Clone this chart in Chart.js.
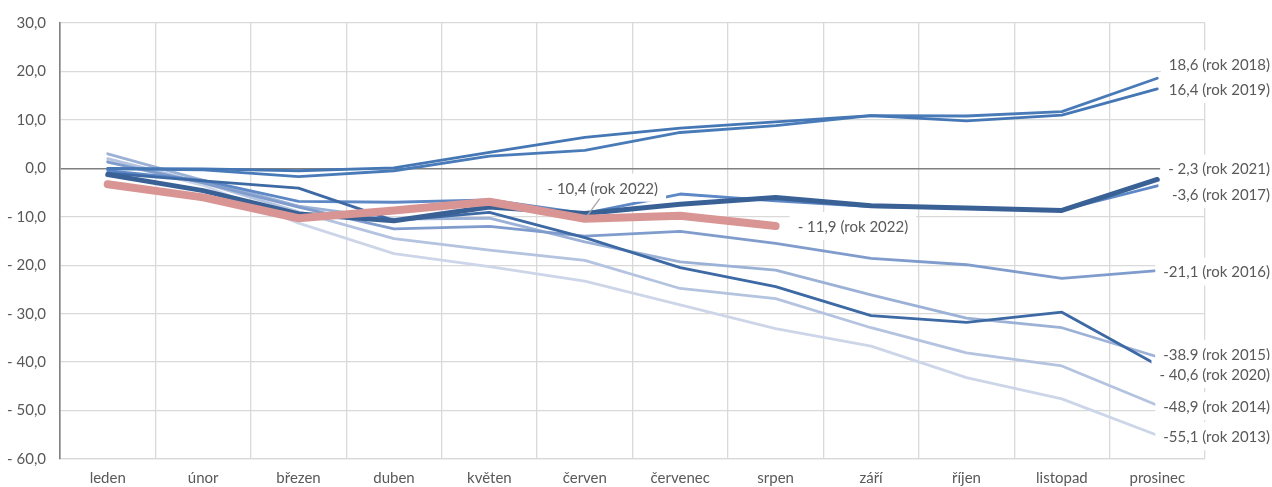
<!DOCTYPE html>
<html>
<head>
<meta charset="utf-8">
<title>Saldo po měsících</title>
<script src="https://cdn.jsdelivr.net/npm/chart.js@4.4.1/dist/chart.umd.min.js"></script>
<style>
  html, body { margin: 0; padding: 0; background: #fff; }
  #wrap { width: 1272px; height: 487px; }
</style>
</head>
<body>
<div id="wrap"><canvas id="saldo"></canvas></div>
<script>
    var months = ['leden', 'únor', 'březen', 'duben', 'květen', 'červen',
                  'červenec', 'srpen', 'září', 'říjen', 'listopad', 'prosinec'];
    var yTicks = [30, 20, 10, 0, -10, -20, -30, -40, -50, -60];

    var v2013 = [1.5, -3.5, -11.3, -17.6, -20.3, -23.3, -28.2, -33.1, -36.7, -43.2, -47.6, -55.1];
    var v2014 = [2.0, -3.0, -9.0, -14.5, -16.9, -19.0, -24.8, -26.9, -32.9, -38.1, -40.8, -48.9];
    var v2015 = [3.0, -2.5, -7.8, -10.5, -10.3, -15.2, -19.3, -21.0, -26.1, -30.9, -32.9, -38.9];
    var v2016 = [1.3, -3.0, -8.0, -12.5, -12.0, -14.0, -13.0, -15.5, -18.6, -19.9, -22.7, -21.1];
    var v2017 = [-0.5, -2.5, -6.8, -7.0, -6.5, -9.3, -5.3, -6.7, -7.9, -8.2, -8.6, -3.6];
    var v2018 = [-0.1, -0.3, -1.7, -0.5, 2.5, 3.7, 7.4, 8.8, 10.9, 10.8, 11.7, 18.6];
    var v2019 = [0.0, -0.1, -0.5, 0.1, 3.3, 6.4, 8.3, 9.6, 10.9, 9.8, 11.0, 16.4];
    var v2020 = [-1.0, -2.6, -4.1, -10.8, -9.1, -14.3, -20.5, -24.4, -30.4, -31.8, -29.7, -40.6];
    var v2021 = [-1.3, -4.6, -9.4, -10.8, -8.0, -9.3, -7.4, -6.0, -7.7, -8.2, -8.7, -2.3];
    var v2022 = [-3.3, -6.0, -10.3, -8.7, -6.9, -10.4, -9.8, -11.9, null, null, null, null];

    var labelTexts = {
        2013: '-55,1 (rok 2013)',
        2014: '-48,9 (rok 2014)',
        2015: '-38.9 (rok 2015)',
        2016: '-21,1 (rok 2016)',
        2017: '-3,6 (rok 2017)',
        2018: '18,6 (rok 2018)',
        2019: '16,4 (rok 2019)',
        2020: '- 40,6 (rok 2020)',
        2021: '- 2,3 (rok 2021)'
    };
    var label2022a = '- 10,4 (rok 2022)';
    var label2022b = '- 11,9 (rok 2022)';

    // drawn bottom to top
    var series = [
        { year: 2013, data: v2013, color: '#cdd6e8', width: 2.8 },
        { year: 2014, data: v2014, color: '#b4c3df', width: 2.8 },
        { year: 2015, data: v2015, color: '#9cb1d6', width: 2.8 },
        { year: 2016, data: v2016, color: '#7f9ccc', width: 2.8 },
        { year: 2017, data: v2017, color: '#5d88c5', width: 2.8 },
        { year: 2018, data: v2018, color: '#4a7bb9', width: 2.8 },
        { year: 2019, data: v2019, color: '#4677b5', width: 2.8 },
        { year: 2020, data: v2020, color: '#3d69a4', width: 2.8 },
        { year: 2021, data: v2021, color: '#3a6196', width: 5 },
        { year: 2022, data: v2022, color: '#d99594', width: 8 }
    ];

    var datasets = series.map(function(s, i) {
        return {
            label: 'rok ' + s.year,
            data: s.data,
            borderColor: s.color,
            backgroundColor: s.color,
            borderWidth: s.width,
            borderCapStyle: 'round',
            borderJoinStyle: 'round',
            pointRadius: 0,
            tension: 0,
            spanGaps: false,
            order: series.length - i
        };
    });

    function fmt(v) {
        if (v === 0) return '0,0';
        if (v < 0) return '- ' + Math.abs(v) + ',0';
        return v + ',0';
    }

    // end labels (dy = nudge in px from the point)
    var items = [
        { text: labelTexts[2018], index: 11, value: v2018[11], dy: -14, align: 'right' },
        { text: labelTexts[2019], index: 11, value: v2019[11], dy: 0, align: 'right' },
        { text: labelTexts[2021], index: 11, value: v2021[11], dy: -11, align: 'right' },
        { text: labelTexts[2017], index: 11, value: v2017[11], dy: 8, align: 'right' },
        { text: labelTexts[2016], index: 11, value: v2016[11], dy: 1, align: 'right' },
        { text: labelTexts[2015], index: 11, value: v2015[11], dy: -3, align: 'right' },
        { text: labelTexts[2020], index: 11, value: v2020[11], dy: 9, align: 'right' },
        { text: labelTexts[2014], index: 11, value: v2014[11], dy: 1, align: 'right' },
        { text: labelTexts[2013], index: 11, value: v2013[11], dy: 1, align: 'right' },
        { text: label2022a, index: 5, value: v2022[5], dx: 18, dy: -31, align: 'center', leader: true },
        { text: label2022b, index: 7, value: v2022[7], dx: 22, dy: 0, align: 'left' }
    ];

    var rokLabels = {
        id: 'rokLabels',
        afterDatasetsDraw: function(chart) {
            var ctx = chart.ctx;
            var xs = chart.scales.x, ys = chart.scales.y;
            ctx.save();
            ctx.font = '15px Lato';
            ctx.textBaseline = 'middle';
            items.forEach(function(it) {
                var px = xs.getPixelForValue(it.index);
                var py = ys.getPixelForValue(it.value);
                var w = ctx.measureText(it.text).width;
                var cy = py + it.dy;
                var left;
                if (it.align === 'right') left = chart.width - 2 - w;
                else if (it.align === 'center') left = px + it.dx - w / 2;
                else left = px + it.dx;
                ctx.fillStyle = '#fff';
                ctx.fillRect(left - 8, cy - 14, w + 16, 28);
                if (it.leader) {
                    ctx.strokeStyle = '#a6a6a6';
                    ctx.lineWidth = 1.3;
                    ctx.beginPath();
                    ctx.moveTo(left + w / 2 - 3, cy + 11);
                    ctx.lineTo(px + 1, py - 1);
                    ctx.stroke();
                }
                ctx.fillStyle = '#595959';
                ctx.textAlign = 'left';
                ctx.fillText(it.text, left, cy + 1);
            });
            ctx.restore();
        }
    };

    Chart.defaults.font.family = 'Lato';
    Chart.defaults.font.size = 15;
    Chart.defaults.color = '#595959';

    new Chart(document.getElementById('saldo'), {
        type: 'line',
        data: { labels: months, datasets: datasets },
        plugins: [rokLabels],
        options: {
            responsive: true,
            maintainAspectRatio: false,
            animation: false,
            layout: { padding: { top: 18, right: 67, left: 0, bottom: 0 } },
            plugins: {
                legend: { display: false },
                tooltip: { enabled: false }
            },
            scales: {
                x: {
                    offset: true,
                    grid: { offset: true, color: '#d9d9d9', lineWidth: 1.3, drawTicks: false },
                    border: { color: '#d9d9d9', width: 1.3 },
                    ticks: { padding: 10, maxRotation: 0, autoSkip: false },
                    afterFit: function(s) { s.height = 28; }
                },
                y: {
                    min: yTicks[yTicks.length - 1],
                    max: yTicks[0],
                    afterBuildTicks: function(s) {
                        s.ticks = yTicks.map(function(v) { return { value: v }; });
                    },
                    grid: {
                        drawTicks: false,
                        color: function(c) { return c.tick && c.tick.value === 0 ? '#808080' : '#d9d9d9'; },
                        lineWidth: function(c) { return c.tick && c.tick.value === 0 ? 1.6 : 1.3; }
                    },
                    border: { color: '#808080', width: 1.6 },
                    ticks: { padding: 14, callback: function(v) { return fmt(v); } },
                    afterFit: function(s) { s.width = 60; }
                }
            }
        }
    });
</script>
</body>
</html>
